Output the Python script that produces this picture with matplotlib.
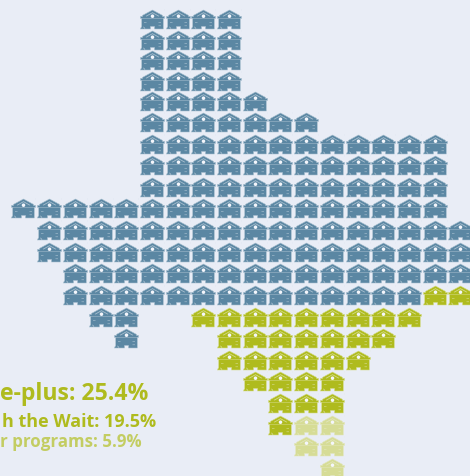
import numpy as np
import matplotlib
matplotlib.use("Agg")
import matplotlib.pyplot as plt
from matplotlib.path import Path
from matplotlib.scale import FuncScale

# One entry per row of the state-shaped grid: first column, then icon counts
row_start  = [5, 5, 5, 5, 5, 5, 5, 5, 5, 0, 1, 1, 2, 2, 3, 4, 8, 9, 10, 10, 11, 12]
blue_count = [4, 4, 4, 4, 5, 7, 12, 12, 12, 17, 17, 17, 16, 14, 2, 1, 0, 0, 0, 0, 0, 0]
gap_count  = [0, 0, 0, 0, 0, 0, 0, 0, 0, 0, 0, 0, 0, 0, 2, 3, 0, 0, 0, 0, 0, 0]
green_count = [0, 0, 0, 0, 0, 0, 0, 0, 0, 0, 0, 0, 0, 2, 9, 7, 6, 4, 3, 1, 0, 0]
pale_count = [0, 0, 0, 0, 0, 0, 0, 0, 0, 0, 0, 0, 0, 0, 0, 0, 0, 0, 0, 2, 2, 1]

labels = ["e-plus: 25.4%", "h the Wait: 19.5%", "r programs: 5.9%"]

BG = "#e9edf6"
BLUE, BLUE_E = "#5b87a3", "#a9c0d0"
GREEN, GREEN_E = "#afbb1e", "#d5dc8e"
PALE, PALE_E = "#d6dc96", "#e2e6bd"
FONT = ["Open Sans", "Noto Sans", "DejaVu Sans"]
NARROW = ["Liberation Sans Narrow", "Open Sans", "DejaVu Sans"]


def poly(pts):
    v = list(pts) + [pts[0]]
    c = [Path.MOVETO] + [Path.LINETO] * (len(pts) - 1) + [Path.CLOSEPOLY]
    return v, c


def icon_path(shapes):
    # coordinates in icon pixels: x -12..12, y 0 (top) .. 19 (bottom).
    # A pair of far corner points keeps every path on the same marker scale.
    verts, codes = [], []
    for s in shapes + [[(-12, 19), (-11.99, 19), (-12, 18.99)], [(12, 0), (11.99, 0), (12, 0.01)]]:
        v, c = poly(s)
        verts += v
        codes += c
    verts = np.array(verts, dtype=float)
    verts[:, 1] = 9.5 - verts[:, 1]
    return Path(verts / 12.0, codes)


def circle(cx, cy, r):
    return [(cx + r * np.cos(a), cy + r * np.sin(a)) for a in np.linspace(0, 2 * np.pi, 13)[:-1]]


house = icon_path([
    [(0, 0), (10, 5.4), (10, 6.4), (12, 6.4), (12, 8.4), (10.8, 8.4), (10.8, 19),
     (2.0, 19), (2.0, 16.5), (-2.0, 16.5), (-2.0, 19), (-7, 19), (-12, 19),
     (-11.4, 17.4), (-10.8, 16.8), (-10.8, 8.4), (-12, 8.4), (-12, 6.4), (-10, 6.4), (-10, 5.4)],
])
trim = icon_path([
    # band under the roof line
    [(0, 2.2), (6.8, 6.0), (6.0, 6.5), (0, 3.1), (-6.0, 6.5), (-6.8, 6.0)],
    # band below the cornice
    [(-10.8, 8.5), (10.8, 8.5), (10.8, 9.0), (-10.8, 9.0)],
    # wall flecks
    [(6, 12), (8.5, 12), (8.5, 12.6), (6, 12.6)],
    [(6, 15.5), (8.5, 15.5), (8.5, 16.1), (6, 16.1)],
    [(-8.5, 12), (-6, 12), (-6, 12.6), (-8.5, 12.6)],
    # bush outline
    [(-7.2, 19), (-7.8, 17.4), (-9.5, 16.5), (-9.5, 17.1), (-8.3, 18), (-8, 19)],
])
window = icon_path([circle(0, 6.2, 1.8)])

fig = plt.figure(figsize=(4.70, 4.76), dpi=100, facecolor=BG)
ax = fig.add_axes([0, 0, 1, 1], facecolor=BG)

# Rows run 20.6 px apart at the top of the state and 21.6 px below it
knots_r = [-2.0, 5.0, 23.0]
knots_p = [-22.0, 122.0, 511.0]
ax.set_yscale(FuncScale(ax, (lambda r: np.interp(r, knots_r, knots_p),
                             lambda p: np.interp(p, knots_p, knots_r))))
ax.set_ylim(np.interp(476, knots_p, knots_r), np.interp(0, knots_p, knots_r))
ax.set_xlim(-23.5 / 25.7, (470 - 23.5) / 25.7)
ax.axis("off")

SIZE = (24 * 0.72) ** 2


def draw(xs, ys, face, edge):
    ax.scatter(xs, ys, marker=house, s=SIZE, c=face, edgecolors=edge, linewidths=0.4, zorder=3)
    ax.scatter(xs, ys, marker=trim, s=SIZE, c=edge, linewidths=0, zorder=4)
    ax.scatter(xs, ys, marker=window, s=SIZE, c="#f4f6fb", linewidths=0, zorder=5)


groups = {"blue": ([], []), "green": ([], []), "pale": ([], [])}
for r, start in enumerate(row_start):
    c = start
    for _ in range(blue_count[r]):
        groups["blue"][0].append(c); groups["blue"][1].append(r); c += 1
    c += gap_count[r]
    for _ in range(green_count[r]):
        groups["green"][0].append(c); groups["green"][1].append(r); c += 1
    for _ in range(pale_count[r]):
        groups["pale"][0].append(c); groups["pale"][1].append(r); c += 1

draw(*groups["blue"], BLUE, BLUE_E)
draw(*groups["green"], GREEN, GREEN_E)
draw(*groups["pale"], PALE, PALE_E)

fig.text(148.5 / 470, 1 - 400 / 476, labels[0], ha="right", va="baseline", color=GREEN,
         fontsize=16.6, fontweight="bold", family=NARROW)
fig.text(156 / 470, 1 - 427 / 476, labels[1], ha="right", va="baseline", color=GREEN,
         fontsize=13.0, fontweight="bold", family=FONT)
fig.text(142 / 470, 1 - 447 / 476, labels[2], ha="right", va="baseline", color="#c3cd62",
         fontsize=12.2, fontweight="bold", family=FONT)

fig.savefig("out.png", dpi=100, facecolor=BG)
